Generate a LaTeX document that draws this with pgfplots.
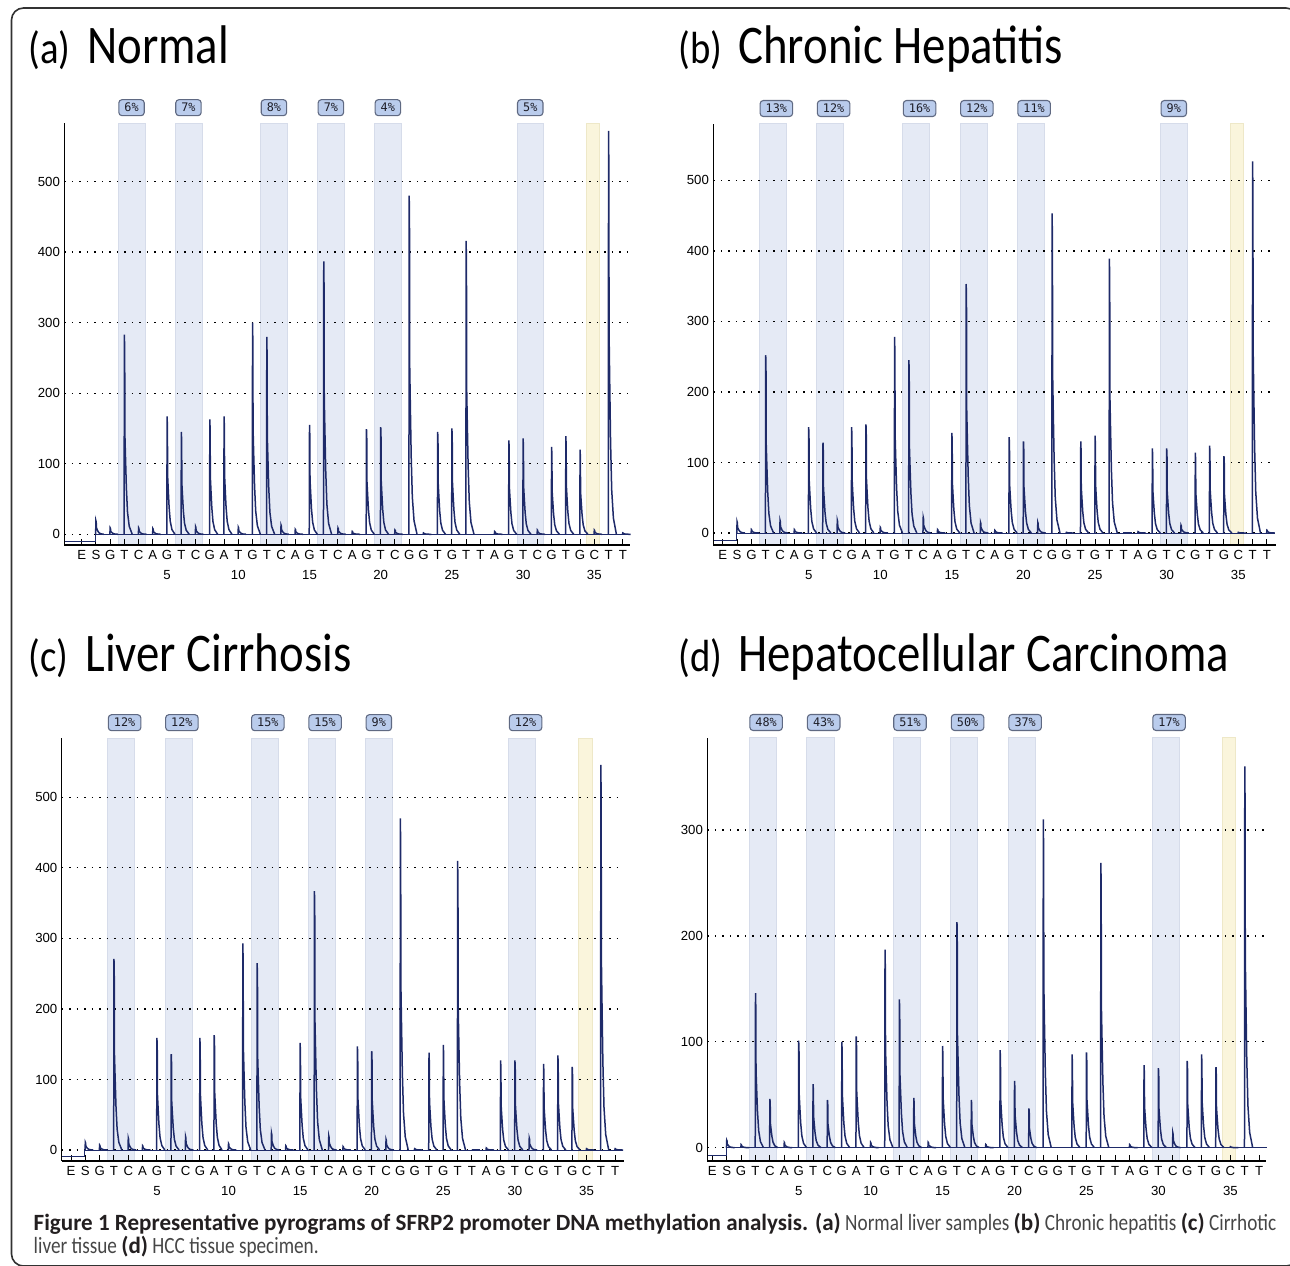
\documentclass[border=0pt]{standalone}
\usepackage{fontspec}
\setmainfont{Liberation Sans}
\newfontfamily\titlefont{Carlito}[FakeStretch=0.86]
\newfontfamily\capfont{Carlito}[FakeStretch=0.825]
\newfontfamily\capboldfont{Carlito}[FakeStretch=0.99]
\newfontfamily\pctfont{DejaVu Sans Mono}
\usepackage{pgfplots}
\usepackage{pgfplotstable}
\pgfplotsset{compat=1.18}

\definecolor{trace}{RGB}{30,42,105}
\definecolor{bandblue}{RGB}{229,234,245}
\definecolor{bandedge}{RGB}{214,220,234}
\definecolor{bandyel}{RGB}{250,245,220}
\definecolor{yeledge}{RGB}{238,232,200}
\definecolor{boxfill}{RGB}{186,204,236}
\definecolor{boxdraw}{RGB}{95,105,130}
\definecolor{capbold}{RGB}{35,31,32}
\definecolor{capreg}{RGB}{70,70,70}
\definecolor{framec}{RGB}{50,50,50}

% peak heights (signal at each dispensation position)
\pgfplotstableread[row sep=\\]{p h\\0 19\\1 9\\2 283\\3 9\\4 8\\5 167\\6 145\\7 11\\8 163\\9 167\\10 10\\11 300\\12 280\\13 13\\14 7\\15 155\\16 387\\17 9\\18 4\\19 149\\20 152\\21 6\\22 480\\23 2\\24 145\\25 150\\26 416\\27 0\\28 4\\29 133\\30 136\\31 6\\32 124\\33 139\\34 120\\35 6\\36 572\\37 2\\}\dA
\pgfplotstableread[row sep=\\]{p h\\0 16\\1 5\\2 252\\3 18\\4 5\\5 150\\6 128\\7 18\\8 150\\9 154\\10 8\\11 278\\12 245\\13 22\\14 5\\15 142\\16 353\\17 15\\18 4\\19 136\\20 130\\21 15\\22 453\\23 1\\24 130\\25 138\\26 389\\27 0\\28 2\\29 120\\30 120\\31 11\\32 114\\33 124\\34 109\\35 1\\36 527\\37 4\\}\dB
\pgfplotstableread[row sep=\\]{p h\\0 11\\1 7\\2 271\\3 17\\4 6\\5 159\\6 136\\7 19\\8 159\\9 163\\10 9\\11 293\\12 265\\13 24\\14 6\\15 152\\16 367\\17 20\\18 5\\19 147\\20 140\\21 15\\22 470\\23 2\\24 138\\25 149\\26 410\\27 0\\28 3\\29 127\\30 127\\31 17\\32 122\\33 134\\34 118\\35 2\\36 546\\37 2\\}\dC
\pgfplotstableread[row sep=\\]{p h\\0 7\\1 3\\2 146\\3 46\\4 5\\5 101\\6 60\\7 45\\8 100\\9 105\\10 5\\11 187\\12 140\\13 47\\14 5\\15 96\\16 213\\17 45\\18 3\\19 92\\20 63\\21 37\\22 310\\23 0\\24 88\\25 90\\26 269\\27 0\\28 3\\29 78\\30 75\\31 14\\32 82\\33 88\\34 76\\35 1\\36 360\\37 0\\}\dD

% shape of one pyrogram peak, drawn from the top point down to the baseline;
% the height comes from the point's own y value (point meta = y, mapped 1:1)
\pgfdeclareplotmark{peak}{%
  \pgfmathsetlengthmacro\pkH{\pgfplotspointmetatransformed*\yu*1pt}%
  \pgfpathmoveto{\pgfpoint{-0.02*\xu}{-\pkH}}%
  \pgfpathlineto{\pgfpoint{-0.008*\xu}{-0.4*\pkH}}%
  \pgfpathlineto{\pgfpoint{0pt}{0pt}}%
  \pgfpathlineto{\pgfpoint{0.022*\xu}{-0.1*\pkH}}%
  \pgfpathlineto{\pgfpoint{0.035*\xu}{-0.5*\pkH}}%
  \pgfpathlineto{\pgfpoint{0.08*\xu}{-0.62*\pkH}}%
  \pgfpathlineto{\pgfpoint{0.14*\xu}{-0.77*\pkH}}%
  \pgfpathlineto{\pgfpoint{0.22*\xu}{-0.89*\pkH}}%
  \pgfpathlineto{\pgfpoint{0.34*\xu}{-0.96*\pkH}}%
  \pgfpathlineto{\pgfpoint{0.55*\xu}{-\pkH}}%
  \pgfusepathqstroke
}

\newcommand\bands[2]{%
  \fill[bandblue, draw=bandedge, line width=0.4pt] (axis cs:1.57,#1) rectangle (axis cs:3.45,#2);
  \fill[bandblue, draw=bandedge, line width=0.4pt] (axis cs:5.57,#1) rectangle (axis cs:7.45,#2);
  \fill[bandblue, draw=bandedge, line width=0.4pt] (axis cs:11.57,#1) rectangle (axis cs:13.45,#2);
  \fill[bandblue, draw=bandedge, line width=0.4pt] (axis cs:15.57,#1) rectangle (axis cs:17.45,#2);
  \fill[bandblue, draw=bandedge, line width=0.4pt] (axis cs:19.57,#1) rectangle (axis cs:21.45,#2);
  \fill[bandblue, draw=bandedge, line width=0.4pt] (axis cs:29.57,#1) rectangle (axis cs:31.45,#2);
  \fill[bandyel, draw=yeledge, line width=0.4pt] (axis cs:34.42,#1) rectangle (axis cs:35.38,#2);
}
\tikzset{pctbox/.style={draw=boxdraw, fill=boxfill, rounded corners=1.6pt, line width=0.55pt,
  inner xsep=2.8pt, inner ysep=1.9pt, text height=4.2pt, text depth=0pt,
  font=\pctfont\fontsize{5.9}{6.5}\selectfont, text={rgb,255:red,30;green,30;blue,40},
  anchor=south west, yshift=3.4pt}}
\newcommand\pcts[7]{%
  \node[pctbox] at (axis cs:1.57,#1) {#2\%};
  \node[pctbox] at (axis cs:5.57,#1) {#3\%};
  \node[pctbox] at (axis cs:11.57,#1) {#4\%};
  \node[pctbox] at (axis cs:15.57,#1) {#5\%};
  \node[pctbox] at (axis cs:19.57,#1) {#6\%};
  \node[pctbox] at (axis cs:29.57,#1) {#7\%};
}

\pgfplotsset{
  pyro/.style={
    set layers, clip=false, anchor=south west,
    axis x line*=bottom, axis y line*=left,
    axis line style={line width=0.6pt, black, -},
    xtick={-1,0,...,37},
    xticklabels={E,S,G,T,C,A,G,T,C,G,A,T,G,T,C,A,G,T,C,A,G,T,C,G,G,T,G,T,T,A,G,T,C,G,T,G,C,T,T},
    extra x ticks={5,10,15,20,25,30,35},
    extra x tick labels={5,10,15,20,25,30,35},
    extra x tick style={major tick length=0pt, xticklabel style={yshift=-10.2pt}},
    xtick align=inside,
    major tick length=3pt,
    tick style={line width=0.5pt, black},
    ytick style={draw=none},
    xticklabel style={anchor=base, yshift=-7pt, inner sep=0pt, font=\fontsize{6.6}{7}\selectfont},
    yticklabel style={anchor=east, xshift=-2pt, inner sep=0pt, font=\fontsize{6.6}{7}\selectfont},
    /pgf/number format/assume math mode=true,
    ymajorgrids,
    grid style={black, line width=0.65pt, dash pattern=on 0.65pt off 3.1pt},
  },
  peaks/.style={scatter, only marks, mark=peak, color=trace,
    point meta=y, point meta min=0, point meta max=1000,
    mark options={line width=0.75pt, solid, line join=miter},
    scatter/@pre marker code/.code={},
    scatter/@post marker code/.code={}},
}

\begin{document}
\begin{tikzpicture}
\draw[framec, line width=0.8pt, rounded corners=6pt] (5.75pt,-4pt) rectangle (649pt,-633pt);

% titles
\node[anchor=base west, inner sep=0pt] at (14pt,-31.65pt) {\titlefont\fontsize{22.5pt}{26pt}\selectfont (a)};
\node[anchor=base west, inner sep=0pt] at (43.5pt,-31.65pt) {\titlefont\fontsize{27.2pt}{30pt}\selectfont Normal};
\node[anchor=base west, inner sep=0pt] at (339pt,-31.65pt) {\titlefont\fontsize{22.5pt}{26pt}\selectfont (b)};
\node[anchor=base west, inner sep=0pt] at (369pt,-31.65pt) {\titlefont\fontsize{27.2pt}{30pt}\selectfont Chronic Hepatitis};
\node[anchor=base west, inner sep=0pt] at (14pt,-335.5pt) {\titlefont\fontsize{22.5pt}{26pt}\selectfont (c)};
\node[anchor=base west, inner sep=0pt] at (42.5pt,-335.5pt) {\titlefont\fontsize{27.2pt}{30pt}\selectfont Liver Cirrhosis};
\node[anchor=base west, inner sep=0pt] at (339pt,-335.5pt) {\titlefont\fontsize{22.5pt}{26pt}\selectfont (d)};
\node[anchor=base west, inner sep=0pt] at (369pt,-335.5pt) {\titlefont\fontsize{27.2pt}{30pt}\selectfont Hepatocellular Carcinoma};

% (a)
\def\xu{7.12pt}\def\yu{0.3527}
\begin{axis}[pyro, at={(32.15pt,-272.5pt)}, x=7.12pt, y=0.3527pt,
  xmin=-2.22, xmax=37.5, ymin=-15.2, ymax=583, ytick={0,100,...,500}]
\begin{pgfonlayer}{axis background}\bands{-15.2}{583}\end{pgfonlayer}
\addplot[color=trace, line width=0.5pt, mark=none] coordinates {(-2.17,-10) (-0.03,-10) (-0.03,0) (37.45,0)};
\addplot[peaks] table[x=p,y=h] {\dA};
\pcts{583}{6}{7}{8}{7}{4}{5}
\end{axis}

% (b)
\def\xu{7.16pt}\def\yu{0.3527}
\begin{axis}[pyro, at={(356.65pt,-272.5pt)}, x=7.16pt, y=0.3527pt,
  xmin=-1.66, xmax=37.6, ymin=-17, ymax=580, ytick={0,100,...,500}]
\begin{pgfonlayer}{axis background}\bands{-17}{580}\end{pgfonlayer}
\addplot[color=trace, line width=0.5pt, mark=none] coordinates {(-1.62,-10) (-0.03,-10) (-0.03,0) (37.55,0)};
\addplot[peaks] table[x=p,y=h] {\dB};
\pcts{580}{13}{12}{16}{12}{11}{9}
\end{axis}

% (c)
\def\xu{7.16pt}\def\yu{0.3527}
\begin{axis}[pyro, at={(30.85pt,-580.5pt)}, x=7.16pt, y=0.3527pt,
  xmin=-1.65, xmax=37.6, ymin=-15.6, ymax=584, ytick={0,100,...,500}]
\begin{pgfonlayer}{axis background}\bands{-15.6}{584}\end{pgfonlayer}
\addplot[color=trace, line width=0.5pt, mark=none] coordinates {(-1.6,-9) (-0.03,-9) (-0.03,0) (37.55,0)};
\addplot[peaks] table[x=p,y=h] {\dC};
\pcts{584}{12}{12}{15}{15}{9}{12}
\end{axis}

% (d)
\def\xu{7.195pt}\def\yu{0.5295}
\begin{axis}[pyro, at={(353.65pt,-580.5pt)}, x=7.195pt, y=0.5295pt,
  xmin=-1.35, xmax=37.5, ymin=-12.6, ymax=387, ytick={0,100,...,300}]
\begin{pgfonlayer}{axis background}\bands{-12.6}{387}\end{pgfonlayer}
\addplot[color=trace, line width=0.5pt, mark=none] coordinates {(-1.3,-7) (-0.03,-7) (-0.03,0) (37.45,0)};
\addplot[peaks] table[x=p,y=h] {\dD};
\pcts{387}{48}{43}{51}{50}{37}{17}
\end{axis}

% caption
\node[anchor=base west, inner sep=0pt] at (16.65pt,-615.35pt) {\fontsize{11.65pt}{14pt}\selectfont
  {\capboldfont\bfseries\color{capbold}Figure 1 Representative pyrograms of SFRP2 promoter DNA methylation analysis. (a)}\capfont\color{capreg}\ Normal liver samples {\capboldfont\bfseries\color{capbold}(b)} Chronic hepatitis {\capboldfont\bfseries\color{capbold}(c)} Cirrhotic};
\node[anchor=base west, inner sep=0pt] at (16.65pt,-626.65pt) {\fontsize{11.65pt}{14pt}\selectfont
  \capfont\color{capreg}liver tissue {\capboldfont\bfseries\color{capbold}(d)} HCC tissue specimen.};

\pgfresetboundingbox
\path[use as bounding box] (0,0) rectangle (645pt,-632.5pt);
\end{tikzpicture}
\end{document}
